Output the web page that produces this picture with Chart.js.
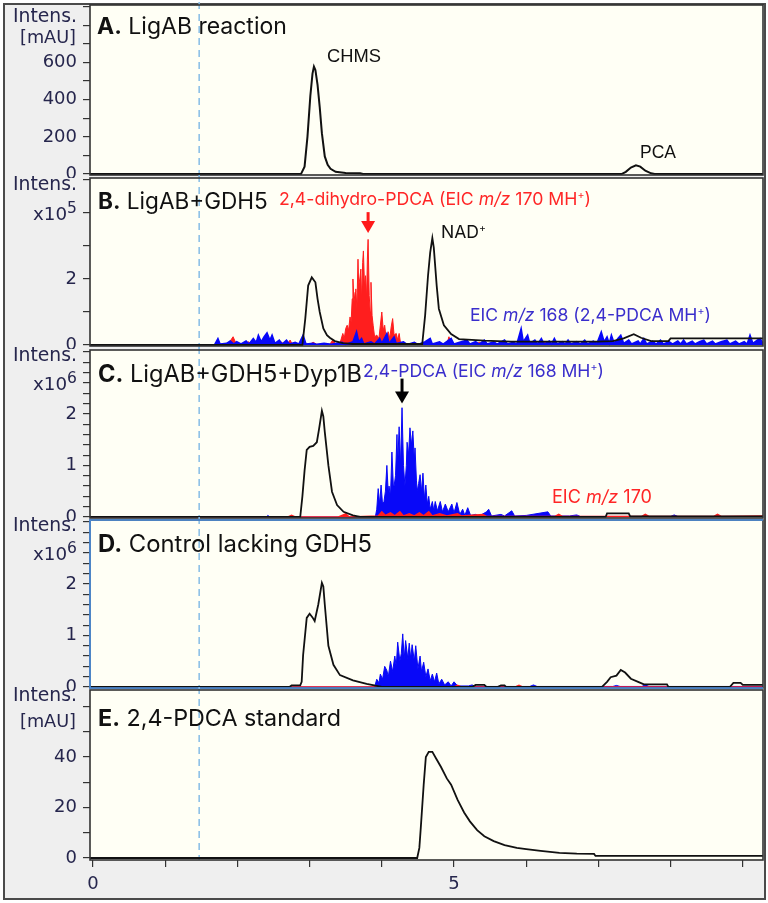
<!DOCTYPE html>
<html><head><meta charset="utf-8">
<script src="https://cdn.jsdelivr.net/npm/chart.js@4.4.1/dist/chart.umd.min.js"></script>
<style>
html,body{margin:0;padding:0;background:#fff;}
#wrap{position:relative;width:768px;height:903px;overflow:hidden;background:#fff;}
#frame{position:absolute;left:3px;top:3px;width:763px;height:897px;box-sizing:border-box;border:2px solid #4a4a4a;background:#efefef;}
canvas{position:absolute;left:0;}
.t{position:absolute;white-space:nowrap;line-height:1;}
.t sup{font-size:60%;vertical-align:0.6em;line-height:0;}
.ax sup{font-size:85%;vertical-align:0.45em;line-height:0;}
</style></head>
<body><div id="wrap"><div id="frame"></div></div>
<script>
// ---------------- DATA ----------------
const timeTicks = [0,1,2,3,4,5,6,7,8,9];
const timeLabels = [0,5];
const cursorTime = 1.47;

// Panel A: UV trace (mAU)
const A_ticks = [0,100,200,300,400,500,600,700,800,900];
const A_labels = [0,200,400,600];
const A_uv = [[-0.05,0],[2.88,0],[2.93,40],[2.97,200],[3.01,420],[3.04,540],[3.06,578],[3.08,560],[3.11,480],[3.14,360],[3.17,220],[3.21,95],[3.25,50],[3.29,28],[3.36,12],[3.50,6],[3.70,4],[3.74,0],[7.32,0],[7.38,12],[7.45,35],[7.52,47],[7.58,40],[7.65,18],[7.73,4],[7.78,0],[9.30,0]];

// Panel B (x10^5)
const B_ticks = [0,1,2,3,4,5];
const B_labels = [0,2];
const B_bpc = [[-0.05,0],[2.90,0],[2.94,0.8],[2.98,1.8],[3.03,2.05],[3.08,1.9],[3.11,1.4],[3.14,1.0],[3.19,0.5],[3.24,0.3],[3.28,0.22],[3.35,0.12],[3.46,0.06],[3.6,0.03],[4.56,0.03],[4.60,0.9],[4.64,2.1],[4.67,2.8],[4.70,3.24],[4.72,2.95],[4.76,1.8],[4.79,1.1],[4.86,0.6],[4.96,0.33],[5.07,0.18],[5.42,0.13],[5.79,0.1],[6.98,0.1],[7.2,0.12],[7.35,0.2],[7.49,0.33],[7.59,0.22],[7.73,0.12],[7.97,0.12],[8.0,0.2],[9.3,0.2]];
const B_eic170 = [[-0.05,0],[1.85,0],[1.90,0.12],[1.94,0.25],[1.98,0.05],[2.10,0.02],[2.15,0.1],[2.2,0.02],[2.55,0.02],[2.6,0.1],[2.65,0.02],[2.70,0.05],[2.73,0.15],[2.76,0.02],[3.0,0.02],[3.05,0.08],[3.1,0.02],[3.28,0.02],[3.32,0.15],[3.36,0.03],[3.42,0.05],[3.46,0.35],[3.48,0.2],[3.50,0.5],[3.52,0.6],[3.54,0.45],[3.56,0.85],[3.575,0.7],[3.59,1.4],[3.60,2.0],[3.615,1.3],[3.63,1.6],[3.64,1.7],[3.655,1.1],[3.67,2.6],[3.68,1.8],[3.695,2.0],[3.71,2.3],[3.72,1.3],[3.735,2.5],[3.745,2.85],[3.76,1.8],[3.775,2.1],[3.79,1.4],[3.80,2.6],[3.81,3.2],[3.825,1.5],[3.84,1.0],[3.85,1.9],[3.865,0.9],[3.88,0.6],[3.90,0.25],[3.93,0.3],[3.96,0.2],[3.98,0.6],[4.00,1.0],[4.02,0.45],[4.04,0.6],[4.06,0.2],[4.09,0.4],[4.11,0.2],[4.13,0.55],[4.15,0.8],[4.17,0.3],[4.20,0.35],[4.22,0.15],[4.24,0.35],[4.26,0.05],[4.30,0.05],[4.40,0.02],[4.45,0.08],[4.5,0.02],[4.9,0.02],[4.93,0.25],[4.96,0.03],[5.3,0.02],[5.35,0.08],[5.4,0.02],[6.2,0.02],[6.25,0.08],[6.3,0.02],[7.0,0.02],[7.05,0.08],[7.1,0.02],[9.3,0.02]];
const B_eic168 = [[-0.05,0],[1.68,0],[1.73,0.2],[1.76,0.03],[1.85,0.05],[1.9,0.12],[1.95,0.03],[1.99,0.1],[2.05,0.03],[2.12,0.12],[2.16,0.03],[2.22,0.2],[2.26,0.08],[2.29,0.3],[2.33,0.1],[2.37,0.25],[2.41,0.37],[2.45,0.15],[2.48,0.3],[2.52,0.05],[2.58,0.15],[2.62,0.03],[2.68,0.15],[2.72,0.03],[2.8,0.08],[2.85,0.03],[2.91,0.3],[2.95,0.03],[3.05,0.05],[3.1,0.02],[3.2,0.05],[3.3,0.02],[3.45,0.08],[3.5,0.02],[3.6,0.1],[3.65,0.4],[3.68,0.1],[3.72,0.2],[3.75,0.03],[3.85,0.1],[3.9,0.03],[3.97,0.2],[4.0,0.05],[4.07,0.35],[4.1,0.05],[4.17,0.25],[4.2,0.05],[4.3,0.1],[4.35,0.02],[4.45,0.08],[4.5,0.02],[4.6,0.1],[4.67,0.2],[4.7,0.03],[4.8,0.1],[4.85,0.03],[4.96,0.2],[5.0,0.03],[5.1,0.1],[5.18,0.15],[5.22,0.03],[5.3,0.1],[5.35,0.03],[5.42,0.15],[5.46,0.03],[5.55,0.1],[5.6,0.03],[5.70,0.15],[5.74,0.03],[5.82,0.08],[5.87,0.03],[5.93,0.5],[5.96,0.1],[6.02,0.3],[6.05,0.05],[6.12,0.15],[6.16,0.03],[6.21,0.2],[6.25,0.03],[6.32,0.12],[6.35,0.03],[6.39,0.2],[6.43,0.03],[6.5,0.1],[6.54,0.03],[6.58,0.15],[6.62,0.03],[6.7,0.1],[6.75,0.03],[6.81,0.15],[6.85,0.03],[6.93,0.12],[6.98,0.05],[7.04,0.4],[7.08,0.1],[7.12,0.25],[7.15,0.05],[7.18,0.3],[7.22,0.05],[7.27,0.2],[7.31,0.3],[7.35,0.05],[7.42,0.15],[7.46,0.03],[7.55,0.12],[7.58,0.03],[7.63,0.2],[7.67,0.03],[7.75,0.12],[7.8,0.03],[7.86,0.15],[7.9,0.03],[7.98,0.1],[8.03,0.03],[8.1,0.12],[8.14,0.03],[8.18,0.15],[8.22,0.03],[8.3,0.12],[8.34,0.03],[8.4,0.1],[8.46,0.15],[8.5,0.03],[8.58,0.12],[8.62,0.03],[8.7,0.1],[8.78,0.15],[8.82,0.03],[8.9,0.12],[8.95,0.03],[9.02,0.1],[9.06,0.03],[9.1,0.3],[9.14,0.05],[9.2,0.15],[9.24,0.2],[9.28,0.05],[9.3,0.1]];
const B_arrow = {t:3.81, tip:3.39};

// Panel C (x10^6)
const C_ticks = [0,0.2,0.4,0.6,0.8,1,1.2,1.4,1.6,1.8,2,2.2,2.4,2.6,2.8,3,3.2];
const C_labels = [0,1,2];
const C_bpc = [[-0.05,0],[2.87,0],[2.90,0.4],[2.93,0.9],[2.96,1.3],[3.00,1.36],[3.05,1.38],[3.10,1.45],[3.13,1.7],[3.17,2.06],[3.19,1.95],[3.21,1.65],[3.26,1.0],[3.31,0.49],[3.38,0.23],[3.47,0.1],[3.6,0.03],[3.7,0],[7.1,0],[7.12,0.07],[7.42,0.07],[7.44,0.01],[9.3,0.01]];
const C_eic168 = [[-0.05,0],[2.4,0],[2.42,0.03],[2.45,0],[3.91,0],[3.93,0.15],[3.95,0.55],[3.97,0.25],[3.99,0.62],[4.01,0.25],[4.03,0.3],[4.05,0.5],[4.07,1.0],[4.09,0.45],[4.10,0.6],[4.12,0.4],[4.14,1.26],[4.16,0.6],[4.17,0.6],[4.19,0.8],[4.21,1.6],[4.22,1.0],[4.24,1.75],[4.26,1.0],[4.28,2.12],[4.30,1.0],[4.32,0.6],[4.34,1.0],[4.35,1.45],[4.37,1.2],[4.39,1.73],[4.41,1.4],[4.43,1.67],[4.45,1.1],[4.46,1.34],[4.48,0.7],[4.49,0.5],[4.51,0.65],[4.53,0.82],[4.55,0.5],[4.57,0.85],[4.59,0.35],[4.61,0.62],[4.63,0.25],[4.65,0.4],[4.67,0.15],[4.70,0.3],[4.72,0.12],[4.74,0.3],[4.77,0.12],[4.81,0.3],[4.84,0.1],[4.88,0.25],[4.92,0.1],[4.97,0.25],[5.0,0.08],[5.04,0.28],[5.08,0.05],[5.12,0.15],[5.15,0.03],[5.19,0.18],[5.23,0.03],[5.3,0.05],[5.35,0.02],[5.45,0.1],[5.48,0.15],[5.52,0.02],[5.65,0.05],[5.7,0.02],[5.8,0.12],[5.84,0.02],[6.0,0.03],[6.3,0.1],[6.34,0.02],[6.6,0.02],[6.7,0.04],[6.75,0.01],[8.0,0.01],[8.05,0.04],[8.1,0.01],[9.3,0.01]];
const C_eic170 = [[-0.05,0],[2.7,0],[2.75,0.03],[2.8,0],[3.4,0],[3.5,0.06],[3.55,0],[3.95,0.02],[4.0,0.1],[4.05,0.03],[4.12,0.08],[4.18,0.02],[4.25,0.1],[4.3,0.02],[4.38,0.06],[4.45,0.02],[4.52,0.08],[4.58,0.02],[4.65,0.1],[4.7,0.02],[4.8,0.06],[4.9,0.02],[5.05,0.06],[5.1,0.02],[5.4,0.05],[5.45,0.01],[6.4,0.01],[6.45,0.05],[6.5,0.01],[7.6,0.01],[7.65,0.05],[7.7,0.01],[8.6,0.01],[8.65,0.05],[8.7,0.01],[9.3,0.02]];
const C_arrow = {t:4.28, tip:2.2};

// Panel D (x10^6)
const D_ticks = C_ticks;
const D_labels = [0,1,2];
const D_bpc = [[-0.05,0],[2.72,0],[2.75,0.03],[2.87,0.03],[2.89,0.1],[2.91,0.62],[2.96,1.34],[3.00,1.42],[3.04,1.35],[3.07,1.28],[3.12,1.6],[3.17,2.02],[3.19,1.95],[3.21,1.6],[3.26,0.8],[3.33,0.43],[3.42,0.23],[3.60,0.13],[3.79,0.06],[3.93,0.02],[4.0,0],[5.25,0],[5.3,0.04],[5.42,0.04],[5.45,0],[5.6,0],[5.65,0.03],[5.7,0.03],[5.72,0],[7.05,0],[7.12,0.1],[7.17,0.19],[7.25,0.22],[7.31,0.33],[7.37,0.28],[7.45,0.16],[7.55,0.1],[7.63,0.05],[7.95,0.05],[7.97,0],[8.82,0],[8.87,0.08],[8.97,0.08],[9.0,0.04],[9.3,0.04]];
const D_eic168 = [[-0.05,0],[3.90,0],[3.93,0.15],[3.96,0.08],[3.98,0.25],[4.01,0.15],[4.04,0.4],[4.07,0.32],[4.09,0.2],[4.12,0.5],[4.15,0.3],[4.18,0.6],[4.20,0.4],[4.22,0.87],[4.25,0.5],[4.27,0.65],[4.29,1.03],[4.31,0.55],[4.33,0.9],[4.36,0.55],[4.38,0.85],[4.40,0.55],[4.42,0.82],[4.45,0.5],[4.47,0.8],[4.50,0.35],[4.53,0.6],[4.55,0.3],[4.58,0.48],[4.61,0.2],[4.64,0.35],[4.67,0.12],[4.70,0.25],[4.73,0.1],[4.76,0.27],[4.79,0.06],[4.83,0.15],[4.87,0.04],[4.92,0.1],[4.96,0.02],[5.0,0.1],[5.05,0.02],[5.2,0.02],[5.25,0.04],[5.3,0.01],[6.05,0.01],[6.1,0.04],[6.15,0.01],[7.2,0.01],[7.25,0.03],[7.3,0.01],[7.6,0.01],[7.65,0.04],[7.7,0.01],[9.3,0.01]];
const D_eic170 = [[-0.05,0],[5.0,0],[5.05,0.03],[5.1,0],[5.85,0],[5.9,0.03],[5.95,0],[9.3,0]];

// Panel E: UV standard (mAU)
const E_ticks = [0,10,20,30,40,50,60];
const E_labels = [0,20,40];
const E_uv = [[-0.05,0],[4.49,0],[4.52,4],[4.54,12],[4.58,29],[4.61,40],[4.65,42],[4.70,42],[4.75,39.5],[4.82,36],[4.90,31.5],[4.96,29],[5.05,23],[5.14,18],[5.22,14.5],[5.32,11],[5.42,8.6],[5.55,6.7],[5.70,5.1],[5.87,4],[6.0,3.5],[6.20,2.8],[6.46,2.0],[6.70,1.7],[6.94,1.6],[6.96,0.8],[9.3,0.8]];

// ---------------- LAYOUT / STYLE ----------------
const RED = '#ff1e1e', BLUE = '#0808f8', BLACK = '#111111';
const panels = [
  {top:5, bottom:175, yMin:-5, yMax:909, ticks:A_ticks, labels:A_labels,
   series:[{d:A_uv,c:BLACK,fill:false,w:2,o:0}]},
  {top:178, bottom:346, yMin:-0.03, yMax:5.06, ticks:B_ticks, labels:B_labels, arrow:{a:B_arrow,color:'#ff1a1a',len:21},
   series:[{d:B_eic170,c:RED,fill:true,w:1,o:2},{d:B_eic168,c:BLUE,fill:true,w:1.5,o:1},{d:B_bpc,c:BLACK,fill:false,w:1.8,o:0}]},
  {top:350, bottom:518, yMin:-0.02, yMax:3.24, ticks:C_ticks, labels:C_labels, arrow:{a:C_arrow,color:'#000',len:25},
   series:[{d:C_eic168,c:BLUE,fill:true,w:1,o:2},{d:C_eic170,c:RED,fill:true,w:1.5,o:1},{d:C_bpc,c:BLACK,fill:false,w:1.8,o:0}]},
  {top:520, bottom:688, yMin:-0.02, yMax:3.24, ticks:D_ticks, labels:D_labels, accent:'#4a90e2',
   series:[{d:D_eic168,c:BLUE,fill:true,w:1,o:2},{d:D_eic170,c:RED,fill:true,w:1.5,o:1},{d:D_bpc,c:BLACK,fill:false,w:1.8,o:0}]},
  {top:690, bottom:860, yMin:-0.8, yMax:66.5, ticks:E_ticks, labels:E_labels, xAxis:true,
   series:[{d:E_uv,c:BLACK,fill:false,w:1.8,o:0}]}
];

const panelPlugin = {
  id:'panel',
  beforeDraw(chart){
    const a = chart.chartArea, ctx = chart.ctx;
    ctx.save(); ctx.fillStyle = '#fffff5'; ctx.fillRect(a.left, a.top, a.right-a.left, a.bottom-a.top); ctx.restore();
  },
  beforeDatasetsDraw(chart, args, opts){
    const ctx = chart.ctx, x = chart.scales.x.getPixelForValue(cursorTime);
    ctx.save(); ctx.strokeStyle = '#86bce6'; ctx.lineWidth = 1.5; ctx.setLineDash([7,5]);
    ctx.beginPath(); ctx.moveTo(x, 0); ctx.lineTo(x, opts.xAxis ? chart.chartArea.bottom : chart.height); ctx.stroke(); ctx.restore();
  },
  afterDatasetsDraw(chart, args, opts){
    const a = chart.chartArea, ctx = chart.ctx;
    ctx.save(); ctx.strokeStyle = '#333'; ctx.lineWidth = 1.6;
    ctx.strokeRect(a.left, a.top, a.right-a.left, a.bottom-a.top);
    if (opts.accent){
      ctx.strokeStyle = opts.accent; ctx.beginPath();
      ctx.moveTo(a.right, a.top); ctx.lineTo(a.left, a.top); ctx.lineTo(a.left, a.bottom); ctx.lineTo(a.right, a.bottom); ctx.stroke();
    }
    if (opts.arrow){
      const ar = opts.arrow, x = chart.scales.x.getPixelForValue(ar.a.t), tip = chart.scales.y.getPixelForValue(ar.a.tip);
      ctx.strokeStyle = ar.color; ctx.fillStyle = ar.color; ctx.lineWidth = 3;
      ctx.beginPath(); ctx.moveTo(x, tip-ar.len); ctx.lineTo(x, tip-10); ctx.stroke();
      ctx.beginPath(); ctx.moveTo(x-7, tip-12); ctx.lineTo(x+7, tip-12); ctx.lineTo(x, tip); ctx.closePath(); ctx.fill();
    }
    ctx.restore();
  }
};

const wrap = document.getElementById('wrap');
const tickFont = {family:'DejaVu Sans', size:18};
const tickColor = '#26264d';

panels.forEach(p => {
  const cv = document.createElement('canvas');
  const cTop = p.top - 3;
  const h = p.xAxis ? (903 - cTop) : (p.bottom - p.top + 6);
  cv.width = 768; cv.height = h; cv.style.top = cTop + 'px';
  wrap.appendChild(cv);
  const xAxisH = h - 6 - (p.bottom - p.top);
  new Chart(cv.getContext('2d'), {
    type:'line',
    data:{datasets: p.series.map(s => ({data:s.d, borderColor:s.c, backgroundColor:s.c, borderWidth:s.w, fill:s.fill?'origin':false, pointRadius:0, tension:0, order:s.o}))},
    options:{
      responsive:false, animation:false, devicePixelRatio:1,
      layout:{padding:{top:3,bottom:3,left:0,right:5}},
      plugins:{legend:{display:false}, tooltip:{enabled:false}, panel:{accent:p.accent, arrow:p.arrow, xAxis:!!p.xAxis}},
      scales:{
        x:{type:'linear', min:-0.042, max:9.28, display:!!p.xAxis,
           afterBuildTicks: s => { s.ticks = timeTicks.map(v => ({value:v})); },
           afterFit: s => { s.height = xAxisH; s.paddingLeft = 0; s.paddingRight = 0; },
           grid:{drawOnChartArea:false, drawTicks:true, tickLength:7, color:'#333', lineWidth:1.2},
           border:{display:false},
           ticks:{autoSkip:false, maxRotation:0, padding:7, font:tickFont, color:tickColor, callback:v => timeLabels.includes(v) ? String(v) : ''}},
        y:{type:'linear', min:p.yMin, max:p.yMax,
           afterBuildTicks: s => { s.ticks = p.ticks.map(v => ({value:v})); },
           afterFit: s => { s.width = 90; s.paddingTop = 0; s.paddingBottom = 0; },
           grid:{drawOnChartArea:false, drawTicks:true, tickLength:7, color:'#333', lineWidth:1.2},
           border:{display:false},
           ticks:{autoSkip:false, padding:6, font:tickFont, color:tickColor, callback:v => p.labels.includes(v) ? String(v) : ''}}
      }
    },
    plugins:[panelPlugin]
  });
});

// ---------------- TEXT ----------------
const texts = [
  {h:'Intens.', r:77, b:23, w:64, f:'DejaVu Sans', s:18, c:tickColor, k:'ax'},
  {h:'[mAU]', r:76, b:44, w:56, f:'DejaVu Sans', s:18, c:tickColor, k:'ax'},
  {h:'Intens.', r:77, b:191, w:64, f:'DejaVu Sans', s:18, c:tickColor, k:'ax'},
  {h:'x10<sup>5</sup>', r:77, b:220, w:44, f:'DejaVu Sans', s:18, c:tickColor, k:'ax'},
  {h:'Intens.', r:77, b:362, w:64, f:'DejaVu Sans', s:18, c:tickColor, k:'ax'},
  {h:'x10<sup>6</sup>', r:77, b:390, w:44, f:'DejaVu Sans', s:18, c:tickColor, k:'ax'},
  {h:'Intens.', r:77, b:532, w:64, f:'DejaVu Sans', s:18, c:tickColor, k:'ax'},
  {h:'x10<sup>6</sup>', r:77, b:560, w:44, f:'DejaVu Sans', s:18, c:tickColor, k:'ax'},
  {h:'Intens.', r:77, b:702, w:64, f:'DejaVu Sans', s:18, c:tickColor, k:'ax'},
  {h:'[mAU]', r:76, b:728, w:56, f:'DejaVu Sans', s:18, c:tickColor, k:'ax'},
  {h:'<b>A.</b> LigAB reaction', l:97, b:35, w:190, f:'Inter', s:22, c:'#111'},
  {h:'<b>B.</b> LigAB+GDH5', l:98, b:210, w:170, f:'Inter', s:22, c:'#111'},
  {h:'<b>C.</b> LigAB+GDH5+Dyp1B', l:98, b:382, w:264, f:'Inter', s:22, c:'#111'},
  {h:'<b>D.</b> Control lacking GDH5', l:98, b:553, w:274, f:'Inter', s:22, c:'#111'},
  {h:'<b>E.</b> 2,4-PDCA standard', l:98, b:726, w:243, f:'Inter', s:22, c:'#111'},
  {h:'CHMS', l:327, b:63, w:54, f:'Liberation Sans', s:17, c:'#111'},
  {h:'PCA', l:640, b:159, w:36, f:'Liberation Sans', s:17, c:'#111'},
  {h:'2,4-dihydro-PDCA (EIC <i>m/z</i> 170 MH<sup>+</sup>)', l:279, b:205, w:312, f:'Inter', s:17, c:'#ff2626'},
  {h:'NAD<sup>+</sup>', l:441, b:238, w:45, f:'Inter', s:17, c:'#111'},
  {h:'EIC <i>m/z</i> 168 (2,4-PDCA MH<sup>+</sup>)', l:470, b:321, w:241, f:'Inter', s:17, c:'#3a2ecc'},
  {h:'2,4-PDCA (EIC <i>m/z</i> 168 MH<sup>+</sup>)', l:363, b:377, w:241, f:'Inter', s:17, c:'#3a2ecc'},
  {h:'EIC <i>m/z</i> 170', l:552, b:504, w:100, f:'Inter', s:17, c:'#ff2626'}
];
texts.forEach(t => {
  const d = document.createElement('div');
  d.className = 't' + (t.k ? ' ' + t.k : '');
  d.innerHTML = t.h;
  const ratio = t.f === 'Inter' ? 0.864 : 0.846;
  d.style.fontFamily = "'" + t.f + "'";
  d.style.color = t.c;
  if (t.r !== undefined) { d.style.right = (768 - t.r) + 'px'; d.style.textAlign = 'right'; }
  else d.style.left = t.l + 'px';
  let size = t.s;
  d.style.fontSize = size + 'px';
  wrap.appendChild(d);
  const cw = d.getBoundingClientRect().width;
  if (t.w && cw > 0) { size = Math.max(t.s * 0.8, Math.min(t.s * 1.25, t.s * t.w / cw)); d.style.fontSize = size + 'px'; }
  d.style.top = (t.b - ratio * size) + 'px';
});
</script>
</body></html>
